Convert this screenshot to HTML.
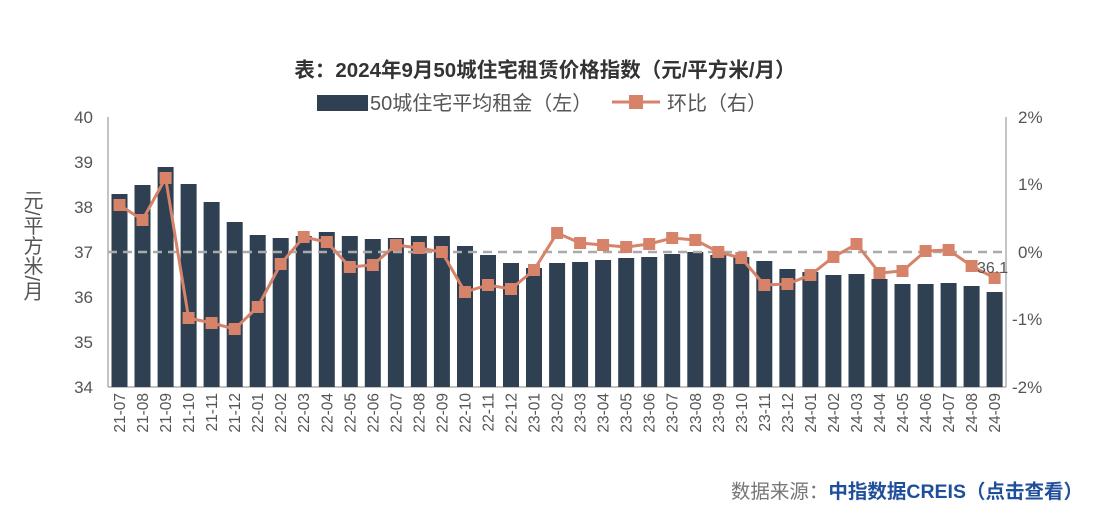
<!DOCTYPE html>
<html><head><meta charset="utf-8"><style>
html,body{margin:0;padding:0;background:#fff;}
svg{display:block;font-family:"Liberation Sans","Noto Sans CJK SC",sans-serif;}
</style></head><body>
<svg width="1101" height="514" viewBox="0 0 1101 514">
<rect width="1101" height="514" fill="#fff"/>
<text x="545" y="77" text-anchor="middle" font-size="20.5" font-weight="bold" fill="#333">表：2024年9月50城住宅租赁价格指数（元/平方米/月）</text>
<rect x="317" y="95" width="51" height="16" fill="#2e4052"/>
<text x="370" y="110" font-size="20" fill="#555">50城住宅平均租金（左）</text>
<line x1="612" y1="102" x2="660" y2="102" stroke="#d6836a" stroke-width="3"/>
<rect x="629" y="95" width="14" height="14" fill="#d6836a"/>
<text x="667" y="110" font-size="20" fill="#555">环比（右）</text>
<g font-size="17" fill="#555" text-anchor="end">
<text x="93" y="123">40</text><text x="93" y="168">39</text><text x="93" y="213">38</text><text x="93" y="258">37</text><text x="93" y="303">36</text><text x="93" y="348">35</text><text x="93" y="393">34</text>
</g>
<g font-size="17" fill="#555" text-anchor="start">
<text x="1018" y="123">2%</text><text x="1018" y="190">1%</text><text x="1018" y="258">0%</text><text x="1012" y="325">-1%</text><text x="1012" y="393">-2%</text>
</g>
<text x="31" y="190" font-size="20" fill="#555" style="writing-mode:vertical-rl">元/平方米/月</text>
<line x1="108" y1="117" x2="108" y2="387" stroke="#888"/>
<line x1="1006" y1="117" x2="1006" y2="387" stroke="#888"/>
<line x1="108" y1="387" x2="1006" y2="387" stroke="#888"/>
<g fill="#2e4052">
<rect x="111.5" y="194" width="16" height="193"/><rect x="134.5" y="185" width="16" height="202"/><rect x="157.6" y="167" width="16" height="220"/><rect x="180.6" y="184" width="16" height="203"/><rect x="203.6" y="202" width="16" height="185"/><rect x="226.7" y="222" width="16" height="165"/><rect x="249.7" y="235" width="16" height="152"/><rect x="272.7" y="238" width="16" height="149"/><rect x="295.7" y="236" width="16" height="151"/><rect x="318.8" y="232" width="16" height="155"/><rect x="341.8" y="236" width="16" height="151"/><rect x="364.8" y="239" width="16" height="148"/><rect x="387.9" y="238" width="16" height="149"/><rect x="410.9" y="236" width="16" height="151"/><rect x="433.9" y="236" width="16" height="151"/><rect x="457" y="246" width="16" height="141"/><rect x="480" y="255" width="16" height="132"/><rect x="503" y="263" width="16" height="124"/><rect x="526" y="268" width="16" height="119"/><rect x="549.1" y="263" width="16" height="124"/><rect x="572.1" y="262" width="16" height="125"/><rect x="595.1" y="260" width="16" height="127"/><rect x="618.2" y="258" width="16" height="129"/><rect x="641.2" y="257" width="16" height="130"/><rect x="664.2" y="254" width="16" height="133"/><rect x="687.3" y="252" width="16" height="135"/><rect x="710.3" y="255" width="16" height="132"/><rect x="733.3" y="257" width="16" height="130"/><rect x="756.3" y="261" width="16" height="126"/><rect x="779.4" y="269" width="16" height="118"/><rect x="802.4" y="272" width="16" height="115"/><rect x="825.4" y="275" width="16" height="112"/><rect x="848.5" y="274" width="16" height="113"/><rect x="871.5" y="279" width="16" height="108"/><rect x="894.5" y="284" width="16" height="103"/><rect x="917.6" y="284" width="16" height="103"/><rect x="940.6" y="283" width="16" height="104"/><rect x="963.6" y="286" width="16" height="101"/><rect x="986.6" y="292" width="16" height="95"/>
</g>
<line x1="108" y1="252" x2="1006" y2="252" stroke="#aaa" stroke-width="2.5" stroke-dasharray="9,6"/>
<polyline fill="none" stroke="#d6836a" stroke-width="3" points="119.5,205 142.5,220 165.6,178 188.6,318 211.6,323 234.7,329 257.7,307 280.7,264 303.7,237 326.8,242 349.8,267 372.8,265 395.9,245 418.9,248 441.9,252 465,292 488,285 511,289 534,270 557.1,233 580.1,243 603.1,245 626.2,247 649.2,244 672.2,238 695.3,240 718.3,252 741.3,258 764.3,285 787.4,284 810.4,275 833.4,257 856.5,244 879.5,273 902.5,271 925.6,251 948.6,250 971.6,266 994.6,278"/>
<g fill="#d6836a">
<rect x="113.5" y="199" width="12" height="12"/><rect x="136.5" y="214" width="12" height="12"/><rect x="159.6" y="172" width="12" height="12"/><rect x="182.6" y="312" width="12" height="12"/><rect x="205.6" y="317" width="12" height="12"/><rect x="228.7" y="323" width="12" height="12"/><rect x="251.7" y="301" width="12" height="12"/><rect x="274.7" y="258" width="12" height="12"/><rect x="297.7" y="231" width="12" height="12"/><rect x="320.8" y="236" width="12" height="12"/><rect x="343.8" y="261" width="12" height="12"/><rect x="366.8" y="259" width="12" height="12"/><rect x="389.9" y="239" width="12" height="12"/><rect x="412.9" y="242" width="12" height="12"/><rect x="435.9" y="246" width="12" height="12"/><rect x="459" y="286" width="12" height="12"/><rect x="482" y="279" width="12" height="12"/><rect x="505" y="283" width="12" height="12"/><rect x="528" y="264" width="12" height="12"/><rect x="551.1" y="227" width="12" height="12"/><rect x="574.1" y="237" width="12" height="12"/><rect x="597.1" y="239" width="12" height="12"/><rect x="620.2" y="241" width="12" height="12"/><rect x="643.2" y="238" width="12" height="12"/><rect x="666.2" y="232" width="12" height="12"/><rect x="689.3" y="234" width="12" height="12"/><rect x="712.3" y="246" width="12" height="12"/><rect x="735.3" y="252" width="12" height="12"/><rect x="758.3" y="279" width="12" height="12"/><rect x="781.4" y="278" width="12" height="12"/><rect x="804.4" y="269" width="12" height="12"/><rect x="827.4" y="251" width="12" height="12"/><rect x="850.5" y="238" width="12" height="12"/><rect x="873.5" y="267" width="12" height="12"/><rect x="896.5" y="265" width="12" height="12"/><rect x="919.6" y="245" width="12" height="12"/><rect x="942.6" y="244" width="12" height="12"/><rect x="965.6" y="260" width="12" height="12"/><rect x="988.6" y="272" width="12" height="12"/>
</g>
<text x="977" y="273" font-size="16" fill="#555">36.1</text>
<g font-size="15.5" fill="#555" text-anchor="end">
<text transform="translate(125,393) rotate(-90)">21-07</text><text transform="translate(148,393) rotate(-90)">21-08</text><text transform="translate(171.1,393) rotate(-90)">21-09</text><text transform="translate(194.1,393) rotate(-90)">21-10</text><text transform="translate(217.1,393) rotate(-90)">21-11</text><text transform="translate(240.2,393) rotate(-90)">21-12</text><text transform="translate(263.2,393) rotate(-90)">22-01</text><text transform="translate(286.2,393) rotate(-90)">22-02</text><text transform="translate(309.2,393) rotate(-90)">22-03</text><text transform="translate(332.3,393) rotate(-90)">22-04</text><text transform="translate(355.3,393) rotate(-90)">22-05</text><text transform="translate(378.3,393) rotate(-90)">22-06</text><text transform="translate(401.4,393) rotate(-90)">22-07</text><text transform="translate(424.4,393) rotate(-90)">22-08</text><text transform="translate(447.4,393) rotate(-90)">22-09</text><text transform="translate(470.5,393) rotate(-90)">22-10</text><text transform="translate(493.5,393) rotate(-90)">22-11</text><text transform="translate(516.5,393) rotate(-90)">22-12</text><text transform="translate(539.5,393) rotate(-90)">23-01</text><text transform="translate(562.6,393) rotate(-90)">23-02</text><text transform="translate(585.6,393) rotate(-90)">23-03</text><text transform="translate(608.6,393) rotate(-90)">23-04</text><text transform="translate(631.7,393) rotate(-90)">23-05</text><text transform="translate(654.7,393) rotate(-90)">23-06</text><text transform="translate(677.7,393) rotate(-90)">23-07</text><text transform="translate(700.8,393) rotate(-90)">23-08</text><text transform="translate(723.8,393) rotate(-90)">23-09</text><text transform="translate(746.8,393) rotate(-90)">23-10</text><text transform="translate(769.8,393) rotate(-90)">23-11</text><text transform="translate(792.9,393) rotate(-90)">23-12</text><text transform="translate(815.9,393) rotate(-90)">24-01</text><text transform="translate(838.9,393) rotate(-90)">24-02</text><text transform="translate(862,393) rotate(-90)">24-03</text><text transform="translate(885,393) rotate(-90)">24-04</text><text transform="translate(908,393) rotate(-90)">24-05</text><text transform="translate(931.1,393) rotate(-90)">24-06</text><text transform="translate(954.1,393) rotate(-90)">24-07</text><text transform="translate(977.1,393) rotate(-90)">24-08</text><text transform="translate(1000.1,393) rotate(-90)">24-09</text>
</g>
<text x="1083" y="498" text-anchor="end" font-size="19.5"><tspan fill="#777">数据来源：</tspan><tspan fill="#1f4e9a" font-weight="bold">中指数据CREIS（点击查看）</tspan></text>
</svg>
</body></html>
